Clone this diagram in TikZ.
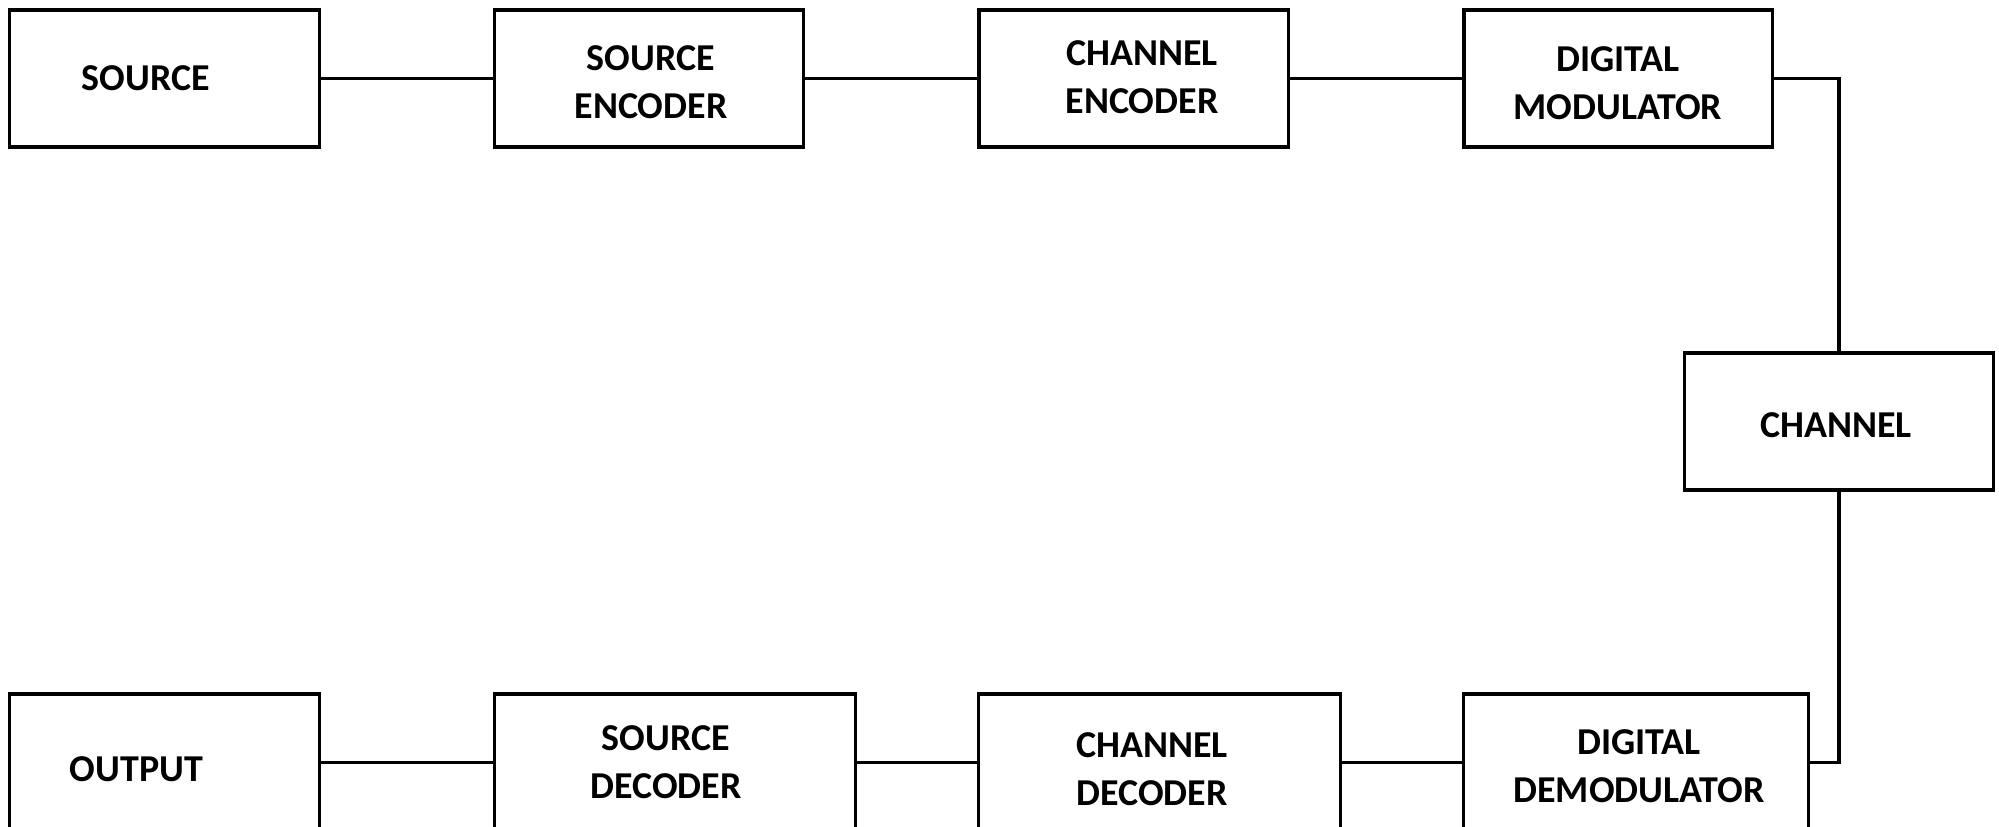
\documentclass[tikz,border=0pt]{standalone}
\usepackage{fontspec}
\setmainfont{Carlito}
\begin{document}
\begin{tikzpicture}[x=0.01cm, y=-0.01cm,
  blk/.style={draw, line width=0.9pt, minimum height=1.37cm, inner sep=0pt, outer sep=0pt},
  txt/.style={font=\bfseries\fontsize{10.8}{13.7}\selectfont, align=center, inner sep=0pt},
  link/.style={line width=0.9pt}]
\useasboundingbox (0,0) rectangle (1999,827);
\clip (0,0) rectangle (1999,827);

% transmitter chain
\node[blk, minimum width=3.09cm,
  label={[txt, name=src-t, xshift=-0.185cm]center:SOURCE}] (src) at (164.5,78.5) {};
\node[blk, minimum width=3.08cm,
  label={[txt, name=senc-t, xshift=0.02cm, yshift=-0.035cm]center:{SOURCE\\ENCODER}}] (senc) at (649,78.5) {};
\node[blk, minimum width=3.09cm,
  label={[txt, name=cenc-t, xshift=0.085cm, yshift=0.015cm]center:{CHANNEL\\ENCODER}}] (cenc) at (1133.5,78.5) {};
\node[blk, minimum width=3.08cm,
  label={[txt, name=mod-t, xshift=0cm, yshift=-0.045cm]center:{DIGITAL\\MODULATOR}}] (mod) at (1618,78.5) {};

% channel
\node[blk, minimum width=3.09cm,
  label={[txt, name=chan-t, xshift=-0.03cm, yshift=-0.035cm]center:CHANNEL}] (chan) at (1839,421.5) {};

% receiver chain
\node[blk, minimum width=3.09cm,
  label={[txt, name=out-t, xshift=-0.28cm, yshift=-0.065cm]center:OUTPUT}] (out) at (164.5,762.5) {};
\node[blk, minimum width=3.60cm,
  label={[txt, name=sdec-t, xshift=-0.09cm]center:{SOURCE\\DECODER}}] (sdec) at (675,762.5) {};
\node[blk, minimum width=3.61cm,
  label={[txt, name=cdec-t, xshift=-0.075cm, yshift=-0.065cm]center:{CHANNEL\\DECODER}}] (cdec) at (1159.5,762.5) {};
\node[blk, minimum width=3.44cm,
  label={[txt, name=demod-t, xshift=0.03cm, yshift=-0.035cm]center:{DIGITAL\\DEMODULATOR}}] (demod) at (1636,762.5) {};

% connectors
\draw[link] (src.east) -- (senc.west);
\draw[link] (senc.east) -- (cenc.west);
\draw[link] (cenc.east) -- (mod.west);
\draw[link] (mod.east) -| (chan.north);
\draw[link] (chan.south) |- (demod.east);
\draw[link] (demod.west) -- (cdec.east);
\draw[link] (cdec.west) -- (sdec.east);
\draw[link] (sdec.west) -- (out.east);
\end{tikzpicture}
\end{document}
